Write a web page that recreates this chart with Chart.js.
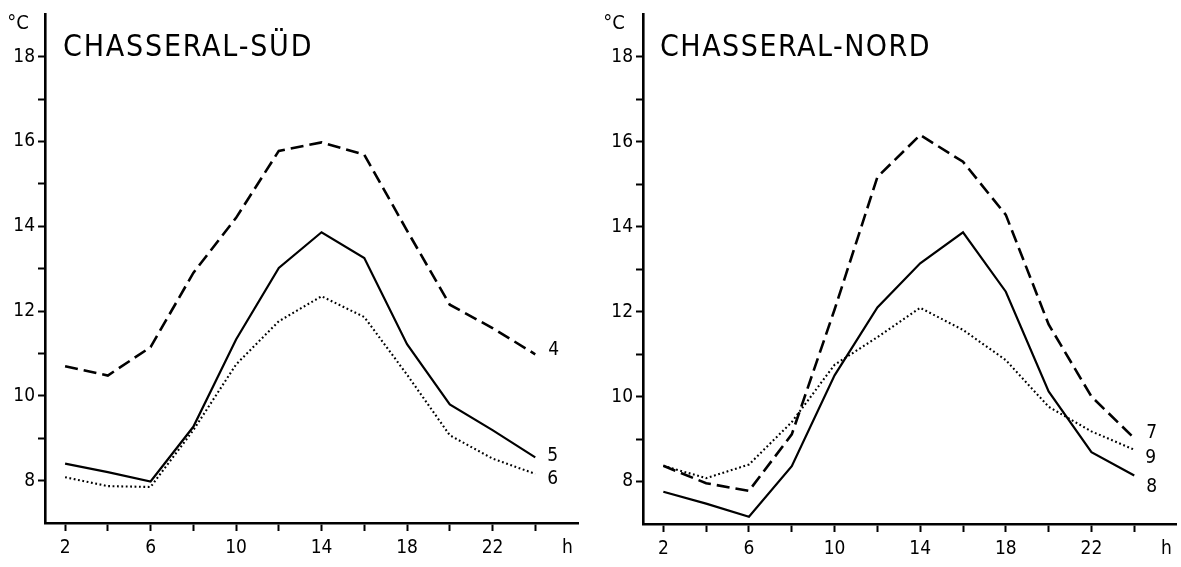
<!DOCTYPE html>
<html>
<head>
<meta charset="utf-8">
<script src="https://cdn.jsdelivr.net/npm/chart.js@4.4.1/dist/chart.umd.min.js"></script>
<style>
  html, body { margin: 0; padding: 0; background: #ffffff; }
  body { width: 1181px; height: 567px; position: relative; overflow: hidden; }
  .panel { position: absolute; top: 0; height: 567px; }
</style>
</head>
<body>
<div class="panel" style="left:0;width:590px;"><canvas id="cSud" width="590" height="567"></canvas></div>
<div class="panel" style="left:590px;width:591px;"><canvas id="cNord" width="591" height="567"></canvas></div>
<script>
// ---- data ----
const hours = [2, 4, 6, 8, 10, 12, 14, 16, 18, 20, 22, 24];

const sudTitle = "CHASSERAL-SÜD";
const sudNames = ["4", "5", "6"];
const sud4 = [10.7, 10.48, 11.15, 12.9, 14.2, 15.78, 15.98, 15.69, 13.9, 12.15, 11.6, 10.98];
const sud5 = [8.4, 8.2, 7.98, 9.27, 11.33, 13.02, 13.86, 13.25, 11.22, 9.8, 9.19, 8.55];
const sud6 = [8.08, 7.87, 7.85, 9.19, 10.74, 11.76, 12.35, 11.86, 10.5, 9.07, 8.52, 8.16];

const nordTitle = "CHASSERAL-NORD";
const nordNames = ["7", "8", "9"];
const nord7 = [8.37, 7.96, 7.78, 9.11, 12.05, 15.17, 16.16, 15.53, 14.28, 11.7, 10.0, 9.02];
const nord8 = [7.76, 7.48, 7.17, 8.36, 10.5, 12.1, 13.14, 13.87, 12.47, 10.12, 8.69, 8.14];
const nord9 = [8.37, 8.08, 8.4, 9.4, 10.75, 11.4, 12.09, 11.57, 10.86, 9.76, 9.18, 8.75];

const xTickValues = [2, 4, 6, 8, 10, 12, 14, 16, 18, 20, 22, 24];
const xTickLabels = [2, 6, 10, 14, 18, 22];
const xUnitLabel = "h";
const xUnitAt = 25.5;
const yTickValues = [8, 9, 10, 11, 12, 13, 14, 15, 16, 17, 18];
const yTickLabels = [8, 10, 12, 14, 16, 18];
const yUnitLabel = "°C";

// ---- styles ----
const FONT = '"DejaVu Sans Condensed", "Liberation Sans Narrow", "DejaVu Sans", sans-serif';
const styleDashed = { borderWidth: 2.6, borderDash: [13, 6] };
const styleSolid  = { borderWidth: 2.2, borderDash: [] };
const styleDotted = { borderWidth: 2.1, borderDash: [1.8, 2.6] };

function makeDataset(values, style) {
  return {
    data: hours.map((h, i) => ({ x: h, y: values[i] })),
    borderColor: '#000',
    backgroundColor: '#000',
    borderWidth: style.borderWidth,
    borderDash: style.borderDash,
    pointRadius: 0,
    tension: 0,
    fill: false,
    spanGaps: true
  };
}

const annotPlugin = {
  id: 'annot',
  afterDraw(chart, args, opts) {
    const ctx = chart.ctx;
    const ca = chart.chartArea;
    ctx.save();
    ctx.fillStyle = '#000';
    // title
    ctx.font = '30px ' + FONT;
    ctx.textAlign = 'left';
    ctx.textBaseline = 'alphabetic';
    if ('letterSpacing' in ctx) ctx.letterSpacing = opts.titleSpacing + 'px';
    ctx.fillText(opts.title, ca.left + opts.titleDx, opts.titleBaseline);
    if ('letterSpacing' in ctx) ctx.letterSpacing = '0px';
    // unit label
    ctx.font = '20px ' + FONT;
    ctx.textAlign = 'center';
    ctx.textBaseline = 'middle';
    ctx.fillText(yUnitLabel, ca.left + opts.unitDx, opts.unitY);
    // series end labels
    ctx.font = '19px ' + FONT;
    ctx.textAlign = 'left';
    opts.names.forEach((name, i) => {
      const meta = chart.getDatasetMeta(i);
      const last = meta.data[meta.data.length - 1];
      const off = opts.labelOffsets[i];
      ctx.fillText(name, last.x + off[0], last.y + off[1]);
    });
    ctx.restore();
  }
};

function buildChart(canvasId, datasets, p) {
  return new Chart(document.getElementById(canvasId), {
    type: 'line',
    data: { datasets },
    plugins: [annotPlugin],
    options: {
      responsive: false,
      animation: false,
      devicePixelRatio: 1,
      layout: { padding: { top: p.top, right: p.right, left: 0, bottom: 0 } },
      plugins: {
        legend: { display: false },
        tooltip: { enabled: false },
        title: { display: false },
        annot: p.annot
      },
      scales: {
        x: {
          type: 'linear',
          min: p.xmin,
          max: p.xmax,
          afterBuildTicks: (s) => { s.ticks = xTickValues.concat([xUnitAt]).map(v => ({ value: v })); },
          afterFit: (s) => { s.height = p.xAxisHeight; },
          ticks: {
            autoSkip: false,
            maxRotation: 0,
            padding: 6,
            color: '#000',
            font: { family: FONT, size: 19 },
            callback: (v) => v === xUnitAt ? xUnitLabel : (xTickLabels.includes(v) ? String(v) : '')
          },
          grid: {
            drawOnChartArea: false,
            drawTicks: true,
            tickLength: 8,
            tickWidth: 2,
            tickColor: (c) => (c.tick && c.tick.value === xUnitAt) ? 'rgba(0,0,0,0)' : '#000'
          },
          border: { display: true, color: '#000', width: 2.6 }
        },
        y: {
          type: 'linear',
          min: 7,
          max: 19,
          afterBuildTicks: (s) => { s.ticks = yTickValues.map(v => ({ value: v })); },
          afterFit: (s) => { s.width = p.yAxisWidth; },
          ticks: {
            autoSkip: false,
            padding: 3,
            color: '#000',
            font: { family: FONT, size: 19 },
            callback: (v) => yTickLabels.includes(v) ? String(v) : ''
          },
          grid: {
            drawOnChartArea: false,
            drawTicks: true,
            tickLength: 7,
            tickWidth: 2,
            tickColor: '#000'
          },
          border: { display: true, color: '#000', width: 2.6 }
        }
      }
    }
  });
}

buildChart('cSud', [
  makeDataset(sud4, styleDashed),
  makeDataset(sud5, styleSolid),
  makeDataset(sud6, styleDotted)
], {
  top: 12, right: 12, xmin: 1.06, xmax: 26.0, xAxisHeight: 44, yAxisWidth: 45,
  annot: {
    title: sudTitle, titleDx: 18, titleBaseline: 56, titleSpacing: 1.8,
    unitDx: -27, unitY: 24,
    names: sudNames,
    labelOffsets: [[13, -4], [12, -1], [12, 5]]
  }
});

buildChart('cNord', [
  makeDataset(nord7, styleDashed),
  makeDataset(nord8, styleSolid),
  makeDataset(nord9, styleDotted)
], {
  top: 13, right: 5, xmin: 1.05, xmax: 25.95, xAxisHeight: 43, yAxisWidth: 53,
  annot: {
    title: nordTitle, titleDx: 17, titleBaseline: 56, titleSpacing: 1.5,
    unitDx: -29, unitY: 24,
    names: nordNames,
    labelOffsets: [[12, -5], [12, 11], [11, 8]]
  }
});
</script>
</body>
</html>
